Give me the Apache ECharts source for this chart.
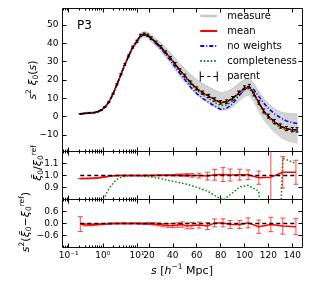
<!DOCTYPE html>
<html><head><meta charset="utf-8">
<script src="https://cdn.jsdelivr.net/npm/echarts/dist/echarts.min.js"></script>
<style>html,body{margin:0;padding:0;background:#fff}#c{width:311px;height:285px}</style>
</head><body><div id="c"></div><script>
// ---------- data ----------
const sMain = [0.22,0.3,0.4,0.55,0.7,0.9,1.15,1.5,2.0,2.6,3.4,4.4,5.7,7.5,10,13,16,19,22,26,30,34,38,42,46,50,55,60,65,70,75,80,85,90,95,100,104,108,112,116,120,125,130,135,140,144];
const meanMain = [1.5,1.8,2.0,2.2,2.6,3.5,5.2,7.8,12.4,17.5,23.0,28.3,33.0,37.8,41.0,44.2,44.9,44.3,42.7,40.4,38.0,35.0,32.0,28.6,25.2,22.3,18.5,15.3,13.0,11.2,9.3,7.6,8.0,9.8,12.8,15.6,16.4,12.2,7.6,3.0,0.2,-2.8,-5.2,-6.6,-7.2,-7.3];
const noWeightsMain = [1.5,1.8,2.0,2.2,2.6,3.5,5.2,7.8,12.4,17.5,23.0,28.3,33.0,37.8,41.2,44.4,45.0,44.2,42.4,39.8,37.2,34.0,30.6,27.0,23.5,20.3,16.0,12.6,10.0,7.8,5.8,4.0,4.6,7.0,11.0,14.8,16.3,14.6,11.0,7.5,4.5,1.6,-0.6,-2.3,-3.3,-3.7];
const completenessMain = [1.4,1.7,1.9,2.1,2.5,3.4,5.1,7.7,12.3,17.4,22.9,28.2,33.0,37.7,40.9,44.1,44.7,44.1,42.5,40.1,37.6,34.6,31.5,28.0,24.6,21.6,17.6,14.4,11.9,9.9,7.8,6.0,6.4,8.3,11.6,14.6,15.3,11.6,7.0,2.5,-0.6,-3.8,-6.0,-7.2,-7.8,-7.9];
const parentMain = [1.5,1.8,2.0,2.2,2.7,3.6,5.3,7.9,12.5,17.6,23.1,28.4,33.1,37.9,41.1,44.3,45.0,44.4,42.8,40.5,38.1,35.1,32.1,28.7,25.3,22.4,18.6,15.4,13.1,11.3,9.4,7.8,8.2,10.0,13.0,15.8,16.6,12.4,7.8,3.1,0.3,-2.7,-5.1,-6.5,-7.1,-7.2];
const parentErrMain = [0.1,0.1,0.1,0.1,0.1,0.15,0.2,0.25,0.3,0.35,0.4,0.45,0.5,0.55,0.6,0.6,0.65,0.65,0.7,0.7,0.7,0.75,0.75,0.8,0.8,0.8,0.85,0.85,0.9,0.9,0.9,0.95,0.95,1.0,1.0,1.0,1.0,1.05,1.05,1.1,1.1,1.1,1.15,1.15,1.2,1.2];
const measureUpper = [2.0,2.3,2.5,2.7,3.1,4.1,5.8,8.4,13.1,18.3,23.9,29.3,34.1,39.0,42.3,45.6,46.4,45.9,44.5,42.4,40.3,37.6,34.9,31.8,28.7,26.0,22.8,20.2,18.0,16.2,14.5,13.0,13.6,15.4,18.0,20.4,21.0,17.8,13.6,9.8,7.0,4.2,2.6,1.8,1.5,1.5];
const measureLower = [1.0,1.3,1.5,1.7,2.1,3.0,4.6,7.2,11.7,16.7,22.1,27.3,31.9,36.6,39.7,42.8,43.4,42.7,40.9,38.4,35.7,32.4,29.1,25.4,21.9,18.9,15.2,11.9,9.3,7.2,5.2,3.4,3.6,5.2,8.2,11.0,11.8,7.8,2.8,-1.8,-5.0,-8.5,-11.2,-13.0,-14.0,-14.5];

const sRatio = [0.22,0.3,0.4,0.5,0.63,0.8,1.0,1.26,1.6,2.0,2.5,3.2,4.0,5.0,6.3,8.0,10,13,16,20,24,28,32,36,40,44,48,52,56,62,69,75,82,88,96,103,112,122,132,143];
const ratioMean = [0.974,0.975,0.976,0.977,0.979,0.982,0.986,0.99,0.995,0.998,0.999,1.0,1.0,1.0,1.0,1.0,1.0,1.0,1.0,1.001,1.001,1.002,1.002,1.003,1.002,1.004,1.003,1.004,1.001,0.999,0.995,1.006,1.008,1.004,1.007,1.006,0.982,0.986,1.027,1.027];
const ratioErr = [0.002,0.002,0.002,0.002,0.002,0.002,0.002,0.002,0.002,0.002,0.002,0.002,0.002,0.002,0.002,0.002,0.002,0.002,0.002,0.003,0.003,0.004,0.004,0.005,0.006,0.008,0.01,0.012,0.015,0.02,0.032,0.045,0.058,0.05,0.045,0.04,0.055,0.4,0.13,0.1];
const ratioCompleteness = [-1,-0.6,-0.3,-0.05,0.2,0.5,0.77,0.85,0.9,0.935,0.965,0.98,0.99,0.995,0.997,0.998,0.998,0.996,0.993,0.99,0.985,0.978,0.97,0.96,0.952,0.944,0.935,0.926,0.915,0.895,0.87,0.835,0.795,0.84,0.905,0.918,0.87,-1.5,1.145,1.10];
const diffMean = [-0.03,-0.06,-0.07,-0.06,-0.05,-0.04,-0.03,-0.02,-0.01,0.0,0.0,0.0,0.01,0.0,0.0,0.01,0.0,0.0,-0.01,0.0,-0.02,-0.05,-0.08,-0.1,-0.11,-0.08,-0.05,-0.13,-0.1,-0.08,-0.13,0.03,0.03,-0.05,-0.05,0.03,-0.16,-0.05,-0.13,-0.16];
const diffErr = [0.37,0.06,0.04,0.04,0.03,0.03,0.03,0.03,0.03,0.02,0.02,0.02,0.02,0.02,0.02,0.02,0.02,0.03,0.04,0.05,0.06,0.07,0.08,0.09,0.1,0.11,0.13,0.14,0.15,0.15,0.17,0.2,0.2,0.2,0.2,0.25,0.33,0.36,0.4,0.4];
const refS = [0.22,143];
const ratioRef = [1,1];
const diffRef = [0,0];

const xTickS = [0.1,1,10,20,40,60,80,100,120,140];
const xTickLabels = ['10⁻¹','10⁰','10¹','20','40','60','80','100','120','140'];
const xMinorS = [0.07,0.08,0.09,0.2,0.3,0.4,0.5,0.6,0.7,0.8,0.9,2,3,4,5,6,7,8,9];
const y1Ticks = [-10,0,10,20,30,40,50];
const y2Ticks = [0.9,1.0,1.1];
const y3Ticks = [-0.6,0.0,0.6];

// ---------- hybrid log/linear x mapping ----------
const XMIN = -52.3, XMAX = 148.5, DEC = 28.6;
function u(s){ return s >= 10 ? s : 10 + (Math.log10(s) - 1) * DEC; }
const xTickU = xTickS.map(u);
const xMinorU = xMinorS.map(u);
function pts(sA, vA){ return sA.map((s,i)=>[u(s), vA[i]]); }
function errPts(sA, vA, eA){ return sA.map((s,i)=>[u(s), vA[i], eA[i]]); }

const F = 'DejaVu Sans';
const minus = v => (v < 0 ? '\u2212' : '');

const grids = [
  {left:62.5, width:240, top:8.5, height:143},
  {left:62.5, width:240, top:151.5, height:48},
  {left:62.5, width:240, top:199.5, height:48}
].map(g => Object.assign(g, {show:true, borderColor:'#111', borderWidth:1, backgroundColor:'transparent', containLabel:false}));

const xAxes = [];
for (let g = 0; g < 3; g++) {
  const base = {gridIndex:g, type:'value', min:XMIN, max:XMAX, axisLine:{show:false, onZero:false}, splitLine:{show:false}};
  xAxes.push(Object.assign({}, base, {position:'bottom',
    axisTick:{show:true, inside:true, length:4, customValues:xTickU, lineStyle:{color:'#000', width:1}},
    axisLabel:{show:g===2, customValues:xTickU, margin:4, fontFamily:F, fontSize:9, color:'#000',
      formatter: v => { let b = 0; for (let i = 1; i < xTickU.length; i++) if (Math.abs(xTickU[i]-v) < Math.abs(xTickU[b]-v)) b = i; return xTickLabels[b]; }}}));
  xAxes.push(Object.assign({}, base, {position:'top',
    axisTick:{show:true, inside:true, length:4, customValues:xTickU, lineStyle:{color:'#000', width:1}},
    axisLabel:{show:false}}));
  xAxes.push(Object.assign({}, base, {position:'bottom',
    axisTick:{show:true, inside:true, length:2, customValues:xMinorU, lineStyle:{color:'#000', width:1}},
    axisLabel:{show:false}}));
  xAxes.push(Object.assign({}, base, {position:'top',
    axisTick:{show:true, inside:true, length:2, customValues:xMinorU, lineStyle:{color:'#000', width:1}},
    axisLabel:{show:false}}));
}

const yDefs = [
  {min:-19, max:59, ticks:y1Ticks, fmt: v => minus(v) + Math.abs(v)},
  {min:0.8, max:1.2, ticks:y2Ticks, fmt: v => v.toFixed(1)},
  {min:-1.2, max:1.2, ticks:y3Ticks, fmt: v => minus(v) + Math.abs(v).toFixed(1)}
];
const yAxes = [];
yDefs.forEach((d, g) => {
  const base = {gridIndex:g, type:'value', min:d.min, max:d.max, axisLine:{show:false, onZero:false}, splitLine:{show:false}};
  yAxes.push(Object.assign({}, base, {position:'left',
    axisTick:{show:true, inside:true, length:4, customValues:d.ticks, lineStyle:{color:'#000'}},
    axisLabel:{show:true, customValues:d.ticks, formatter:d.fmt, margin:4, fontFamily:F, fontSize:9, color:'#000'}}));
  yAxes.push(Object.assign({}, base, {position:'right',
    axisTick:{show:true, inside:true, length:4, customValues:d.ticks, lineStyle:{color:'#000'}},
    axisLabel:{show:false}}));
});

function errBar(color, cap, lw){
  return function(params, api){
    const x = api.value(0), y = api.value(1), e = api.value(2);
    const a = api.coord([x, y - e]), b = api.coord([x, y + e]);
    return {type:'group', children:[
      {type:'line', shape:{x1:a[0], y1:a[1], x2:b[0], y2:b[1]}, style:{stroke:color, lineWidth:lw}},
      {type:'line', shape:{x1:a[0]-cap, y1:a[1], x2:a[0]+cap, y2:a[1]}, style:{stroke:color, lineWidth:lw}},
      {type:'line', shape:{x1:b[0]-cap, y1:b[1], x2:b[0]+cap, y2:b[1]}, style:{stroke:color, lineWidth:lw}}
    ]};
  };
}
function bandRender(params, api){
  if (params.dataIndex !== 0) return;
  const up = sMain.map((s,i)=>api.coord([u(s), measureUpper[i]]));
  const lo = sMain.map((s,i)=>api.coord([u(s), measureLower[i]])).reverse();
  return {type:'polygon', shape:{points: up.concat(lo)}, style:{fill:GRAY, stroke:'#c4c4c4', lineWidth:0.6}};
}
function line(name, g, data, color, width, type, z){
  return {type:'line', name, xAxisIndex:4*g, yAxisIndex:2*g, data, symbol:'none', silent:true, z:z||2,
    lineStyle:{color, width, type:type||'solid'}, itemStyle:{color}, clip:true};
}
const GRAY = '#d4d4d4';
const series = [
  line('measure', 0, pts(sMain, measureUpper), '#cccccc', 1, 'solid', 1),
  {type:'custom', name:'measure', xAxisIndex:0, yAxisIndex:0, data: pts([sMain[0]], [measureLower[0]]),
   renderItem: bandRender, encode:{x:0, y:1}, clip:true, silent:true, z:1},
  line('no weights', 0, pts(sMain, noWeightsMain), '#0000ff', 1.5, [4,2,1,2], 2),
  line('completeness', 0, pts(sMain, completenessMain), '#008800', 1.5, [1.5,2], 2),
  line('mean', 0, pts(sMain, meanMain), '#ff0000', 1.5, 'solid', 3),
  line('parent', 0, pts(sMain, parentMain), '#000000', 1.2, [4,2], 4),
  {type:'custom', name:'parent', xAxisIndex:0, yAxisIndex:0, data: errPts(sMain, parentMain, parentErrMain),
   renderItem: errBar('#000', 1.5, 1), encode:{x:0, y:1}, clip:true, silent:true, z:5},

  line('completeness', 1, pts(sRatio, ratioCompleteness), '#008800', 1.5, [1.5,2], 2),
  line('mean', 1, pts(sRatio, ratioMean), '#ff0000', 1.5, 'solid', 3),
  {type:'custom', name:'mean', xAxisIndex:4, yAxisIndex:2, data: errPts(sRatio, ratioMean, ratioErr),
   renderItem: errBar('rgba(255,40,40,0.85)', 2.5, 1), encode:{x:0, y:1}, clip:true, silent:true, z:3},
  line('parent', 1, pts(refS, ratioRef), '#000000', 1.5, [4,3], 4),

  line('mean', 2, pts(sRatio, diffMean), '#ff0000', 1.5, 'solid', 3),
  {type:'custom', name:'mean', xAxisIndex:8, yAxisIndex:4, data: errPts(sRatio, diffMean, diffErr),
   renderItem: errBar('rgba(255,40,40,0.85)', 2.5, 1), encode:{x:0, y:1}, clip:true, silent:true, z:3},
  line('parent', 2, pts(refS, diffRef), '#000000', 1.5, [4,3], 4)
];

const base = {fontFamily:F, fontSize:11, fill:'#000'};
const rich = {
  n:{fontFamily:F, fontSize:11, lineHeight:15},
  i:{fontFamily:F, fontSize:11, fontStyle:'italic', lineHeight:15},
  sup:{fontFamily:F, fontSize:7.5, lineHeight:15, verticalAlign:'top'},
  sub:{fontFamily:F, fontSize:7.5, lineHeight:15, verticalAlign:'bottom'}
};
function rtext(x, y, text, rot){
  return {type:'text', x, y, rotation: rot || 0, silent:true,
    style: Object.assign({}, base, {text, rich, align:'center', verticalAlign:'middle'})};
}

const option = {
  animation:false,
  backgroundColor:'#fff',
  grid: grids,
  xAxis: xAxes,
  yAxis: yAxes,
  legend: {
    orient:'vertical', left:199, top:11, padding:0, itemWidth:17, itemHeight:10, itemGap:5, selectedMode:false,
    textStyle:{fontFamily:F, fontSize:10, color:'#000', padding:[0,0,0,5]},
    itemStyle:{color:'rgba(0,0,0,0)', borderWidth:0},
    data:[
      {name:'measure', lineStyle:{width:2.5, color:'#c8c8c8'}},
      {name:'mean'},
      {name:'no weights'},
      {name:'completeness'},
      {name:'parent', icon:'path://M0,0L0,10M0,5L4,5M7,5L10,5M13,5L17,5M17,0L17,10',
       itemStyle:{color:'rgba(0,0,0,0)', borderColor:'#000', borderWidth:1}}
    ]
  },
  graphic: [
    {type:'text', x:77, y:26, silent:true, style:{text:'P3', fontFamily:F, fontSize:12, fill:'#000', verticalAlign:'middle'}},
    rtext(33, 80, '{i|s}{sup|2}{n| }{i|ξ}{sub|0}{n|(}{i|s}{n|)}', Math.PI/2),
    rtext(38, 163, '{i|ξ̄}{sub|0}{n|/}{i|ξ}{sub|0}{sup|ref}', Math.PI/2),
    rtext(26, 222, '{i|s}{sup|2}{n|(}{i|ξ̄}{sub|0}{n|−}{i|ξ}{sub|0}{sup|ref}{n|)}', Math.PI/2),
    rtext(182, 271, '{i|s}{n| [}{i|h}{sup|−1}{n| Mpc]}', 0)
  ],
  series
};
const chart = echarts.init(document.getElementById('c'), null, {renderer:'canvas'});
chart.setOption(option);
</script></body></html>
